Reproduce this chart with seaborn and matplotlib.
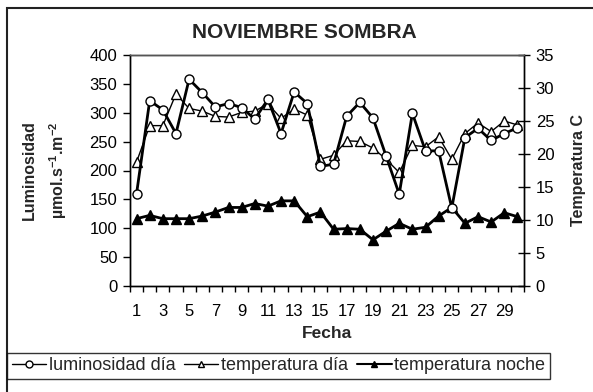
import numpy as np
import pandas as pd
import matplotlib
matplotlib.use("Agg")
import matplotlib.pyplot as plt
import seaborn as sns
from matplotlib.patches import Rectangle
from matplotlib.lines import Line2D

# Daily measurements for November (shade)
dias = list(range(1, 31))
luminosidad_dia = [160, 321, 305, 264, 358, 335, 310, 316, 309, 289,
                   323, 264, 336, 316, 207, 211, 294, 318, 291, 225,
                   159, 299, 234, 234, 135, 257, 273, 252, 264, 274]
temperatura_dia = [18.8, 24.3, 24.3, 29.1, 26.9, 26.5, 25.7, 25.6, 26.3, 26.5,
                   27.6, 25.4, 26.8, 25.9, 19.2, 19.8, 22.0, 21.9, 20.9, 19.2,
                   17.2, 21.3, 21.1, 22.6, 19.2, 23.1, 24.7, 23.4, 25.0, 24.4]
temperatura_noche = [10.2, 10.7, 10.2, 10.2, 10.2, 10.6, 11.2, 11.9, 11.9, 12.5,
                     12.1, 12.9, 12.9, 10.5, 11.2, 8.6, 8.7, 8.6, 7.0, 8.3,
                     9.5, 8.6, 8.9, 10.6, 11.9, 9.5, 10.5, 9.7, 11.1, 10.5]
ticks_izq = list(range(0, 401, 50))
ticks_der = list(range(0, 36, 5))

df = pd.DataFrame({
    "pos": np.arange(len(dias)),
    "lum": luminosidad_dia,
    "tdia": temperatura_dia,
    "tnoche": temperatura_noche,
})

sns.set_theme(style="white")
plt.rcParams["font.family"] = ["Liberation Sans", "DejaVu Sans"]
plt.rcParams["mathtext.fontset"] = "custom"
plt.rcParams["mathtext.rm"] = "Liberation Sans:bold"
plt.rcParams["mathtext.it"] = "Liberation Sans:bold"
plt.rcParams["mathtext.bf"] = "Liberation Sans:bold"

W, H = 593, 392
fig = plt.figure(figsize=(W / 100, H / 100), dpi=100)
fig.patch.set_facecolor("white")

x0, x1, y0, y1 = 130, 524, 55, 286
ax = fig.add_axes([x0 / W, 1 - y1 / H, (x1 - x0) / W, (y1 - y0) / H])
ax2 = ax.twinx()

sns.lineplot(data=df, x="pos", y="lum", ax=ax, color="black", linewidth=2,
             marker="o", markersize=6.5, markerfacecolor="white",
             markeredgecolor="black", markeredgewidth=1, zorder=3)
sns.lineplot(data=df, x="pos", y="tdia", ax=ax2, color="black", linewidth=1,
             marker="^", markersize=7.5, markerfacecolor="white",
             markeredgecolor="black", markeredgewidth=1, zorder=2)
sns.lineplot(data=df, x="pos", y="tnoche", ax=ax2, color="black", linewidth=2,
             marker="^", markersize=7.5, markerfacecolor="black",
             markeredgecolor="black", markeredgewidth=1, zorder=2)
ax.set_zorder(ax2.get_zorder() + 1)
ax.patch.set_visible(False)

ax.set_xlim(-0.5, len(dias) - 0.5)
ax.set_ylim(0, 400)
ax2.set_ylim(0, 35)

ax.set_xticks(range(0, len(dias), 2))
ax.set_xticklabels([str(d) for d in dias[::2]])
ax.set_xticks(np.arange(-0.5, len(dias), 1), minor=True)
ax.tick_params(axis="x", which="major", length=0, pad=13, labelsize=12, colors="black")
ax.tick_params(axis="x", which="minor", length=4, width=1, direction="out", color="black", bottom=True)
ax.set_yticks(ticks_izq)
ax.tick_params(axis="y", which="major", length=5, width=1, direction="out", left=True,
               labelsize=12, pad=4, colors="black")
ax2.set_yticks(ticks_der)
ax2.tick_params(axis="y", which="major", length=9, width=1, direction="inout", right=True,
                labelsize=12, pad=4, colors="black")

for a in (ax, ax2):
    a.set_xlabel("")
    a.set_ylabel("")
    for s in a.spines.values():
        s.set_color("black")
        s.set_linewidth(1)
ax.spines["top"].set_color("#555555")
ax.grid(False)
ax2.grid(False)

fig.text(304 / W, 1 - 33 / H, "NOVIEMBRE SOMBRA", ha="center", va="center",
         fontsize=15, fontweight="bold")
fig.text(327 / W, 1 - 334 / H, "Fecha", ha="center", va="center",
         fontsize=12.5, fontweight="bold")
fig.text(29 / W, 1 - 170 / H, "Luminosidad", rotation=90, ha="center", va="center",
         fontsize=11.5, fontweight="bold")
fig.text(58 / W, 1 - 170 / H, r"µmol.s$^{-1}$.m$^{-2}$", rotation=90,
         ha="center", va="center", fontsize=11.5, fontweight="bold")
fig.text(578 / W, 1 - 170 / H, "Temperatura C", rotation=90, ha="center", va="center",
         fontsize=11.5, fontweight="bold")

handles = [
    Line2D([], [], color="black", lw=1, marker="o", ms=5, mfc="white", mec="black"),
    Line2D([], [], color="black", lw=1, marker="^", ms=5, mfc="white", mec="black"),
    Line2D([], [], color="black", lw=1.5, marker="^", ms=5, mfc="black", mec="black"),
]
labels = ["luminosidad día", "temperatura día", "temperatura noche"]
leg = fig.legend(handles, labels, loc="center left", ncol=3,
                 bbox_to_anchor=(7 / W, 1 - 366 / H), frameon=True, fancybox=False,
                 edgecolor="black", fontsize=13, handlelength=1.9, handletextpad=0.15,
                 columnspacing=0.5, borderpad=0.25, borderaxespad=0)
leg.get_frame().set_linewidth(1)

fig.patches.append(Rectangle((7 / W, -0.1), 1.2, 1 - 8 / H + 0.1, transform=fig.transFigure,
                             fill=False, edgecolor="#222222", linewidth=1.5))

fig.savefig("out.png", dpi=100, facecolor="white")
